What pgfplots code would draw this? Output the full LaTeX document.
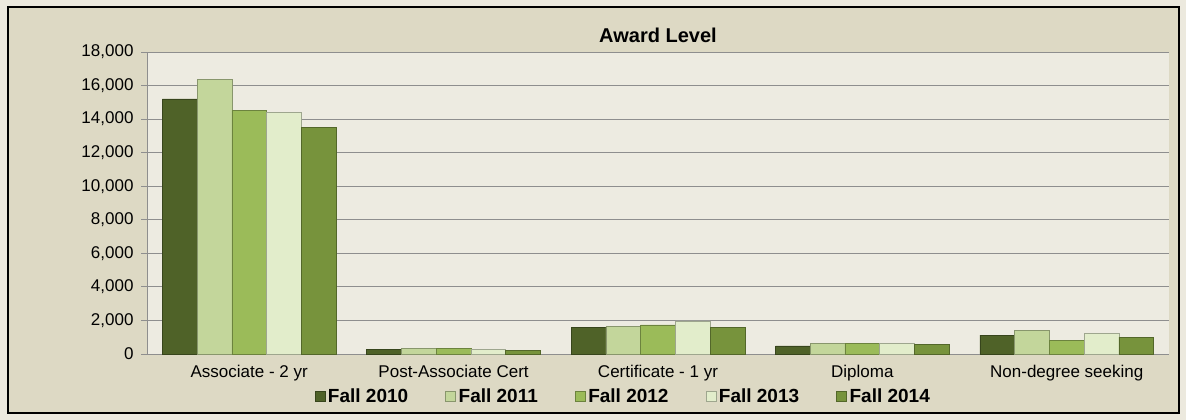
\documentclass[border=0pt]{standalone}
\usepackage{pgfplots}
\pgfplotsset{compat=1.18}
\usepackage{fontspec}
\setmainfont{Liberation Sans}

\definecolor{cA}{HTML}{4F6228}
\definecolor{cB}{HTML}{C3D69B}
\definecolor{cC}{HTML}{9BBB59}
\definecolor{cD}{HTML}{E2EDCB}
\definecolor{cE}{HTML}{77933C}
\definecolor{outerbg}{HTML}{ECE9DE}
\definecolor{chartbg}{HTML}{DDD9C4}
\definecolor{plotbg}{HTML}{EDEBE1}
\definecolor{gridc}{HTML}{8E8E8E}

\begin{document}
\begin{tikzpicture}
\fill[outerbg] (0bp,0bp) rectangle (1186bp,420bp);
\filldraw[fill=chartbg, draw=black, line width=2bp] (8bp,7bp) rectangle (1179bp,413bp);
\begin{axis}[
	at={(147bp,66bp)}, anchor=south west,
	scale only axis,
	width=1022bp, height=302bp,
	ybar=0pt,
	bar width=0.17,
	xmin=-0.5, xmax=4.5,
	ymin=0, ymax=18000,
	ytick={0,2000,...,18000},
	scaled y ticks=false,
	/pgf/number format/.cd, 1000 sep={,}, assume math mode=true,
	/pgfplots/.cd,
	xtick={0,1,2,3,4},
	xticklabels={Associate - 2 yr, Post-Associate Cert, Certificate - 1 yr, Diploma, Non-degree seeking},
	x tick style={draw=none},
	extra x ticks={-0.5,0.5,1.5,2.5,3.5,4.5},
	extra x tick labels={},
	extra x tick style={grid=none, tick style={draw=gridc, line width=0.8bp}, major tick length=6bp, tick align=outside},
	y tick style={draw=gridc, line width=0.8bp},
	major tick length=6bp,
	tick align=outside,
	tick pos=left,
	ymajorgrids,
	grid style={gridc, line width=0.8bp},
	axis line style={gridc, line width=0.8bp},
	axis x line*=bottom, axis y line*=left,
	axis background/.style={fill=plotbg},
	tick label style={font=\fontsize{17bp}{20bp}\selectfont},
	yticklabel style={xshift=-4bp},
	xticklabel style={yshift=-2bp},
	title={Award Level},
	title style={font=\fontsize{20bp}{23bp}\selectfont\bfseries, at={(0.5,1)}, anchor=south, yshift=0bp},
	legend columns=5,
	legend style={at={(0.466,-0.14)}, anchor=center, draw=none, fill=none,
		font=\fontsize{19bp}{22bp}\selectfont\bfseries,
		/tikz/every even column/.append style={column sep=35bp},
		/tikz/every odd column/.append style={column sep=1bp}},
	legend image code/.code={\draw[#1, line width=0.4bp] (0bp,-5bp) rectangle (10bp,5bp);},
]
\addplot[fill=cA, draw=cA!70!black, line width=0.5bp] coordinates {(0,15200) (1,260) (2,1570) (3,480) (4,1130)};
\addplot[fill=cB, draw=cB!70!black, line width=0.5bp] coordinates {(0,16350) (1,330) (2,1650) (3,620) (4,1400)};
\addplot[fill=cC, draw=cC!70!black, line width=0.5bp] coordinates {(0,14520) (1,320) (2,1730) (3,650) (4,790)};
\addplot[fill=cD, draw=cD!70!black, line width=0.5bp] coordinates {(0,14400) (1,290) (2,1970) (3,620) (4,1210)};
\addplot[fill=cE, draw=cE!70!black, line width=0.5bp] coordinates {(0,13500) (1,200) (2,1570) (3,590) (4,1000)};
\legend{Fall 2010, Fall 2011, Fall 2012, Fall 2013, Fall 2014}
\end{axis}
\end{tikzpicture}
\end{document}
